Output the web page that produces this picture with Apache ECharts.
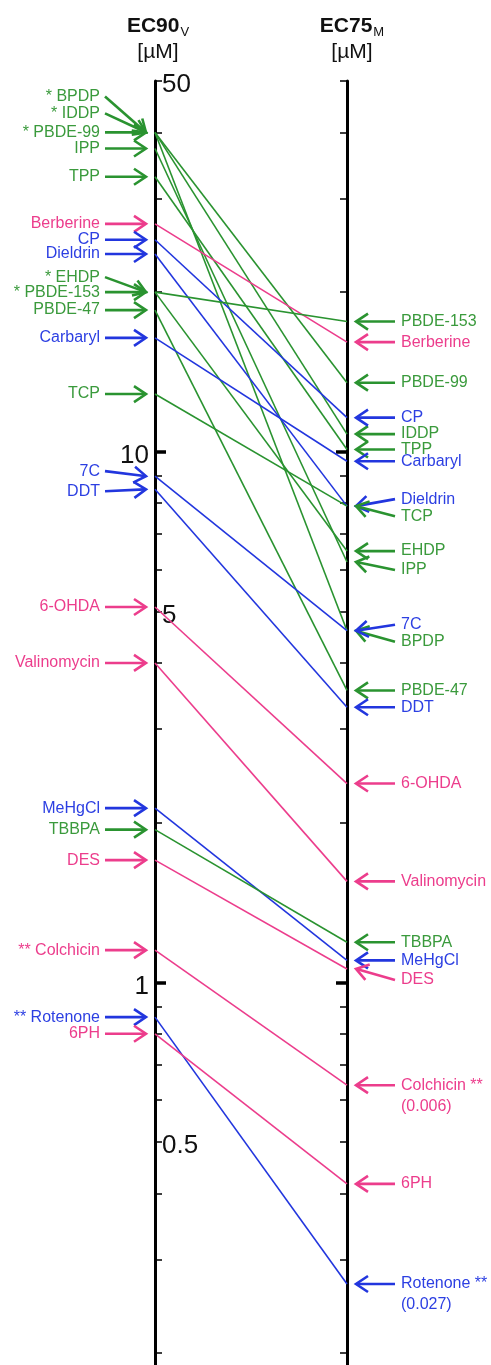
<!DOCTYPE html>
<html>
<head>
<meta charset="utf-8">
<script src="https://cdn.jsdelivr.net/npm/echarts@6/dist/echarts.min.js"></script>
<style>
  html, body { margin: 0; padding: 0; background: #fff; }
  #chart { width: 491px; height: 1365px; }
</style>
</head>
<body>
<div id="chart"></div>
<script>
// Compounds and their effective concentrations (µM)
const compounds = ['BPDP', 'IDDP', 'PBDE-99', 'IPP', 'TPP', 'Berberine', 'CP', 'Dieldrin', 'EHDP', 'PBDE-153',
  'PBDE-47', 'Carbaryl', 'TCP', '7C', 'DDT', '6-OHDA', 'Valinomycin', 'MeHgCl', 'TBBPA', 'DES',
  'Colchicin', 'Rotenone', '6PH'];
// colour group of each compound: g = green, b = blue, p = pink
const groups = ['g', 'g', 'g', 'g', 'g', 'p', 'b', 'b', 'g', 'g',
  'g', 'b', 'g', 'b', 'b', 'p', 'p', 'b', 'g', 'p',
  'p', 'b', 'p'];
const ec90V = [40, 40, 40, 37.3, 33, 26.9, 25.1, 23.6, 20, 20,
  18.5, 16.4, 12.85, 9.0, 8.5, 5.1, 4.0, 2.13, 1.94, 1.70,
  1.15, 0.86, 0.80];
const ec75M = [4.6, 10.8, 13.5, 6.2, 10.1, 16.1, 11.6, 7.9, 6.5, 17.6,
  3.55, 9.6, 7.9, 4.6, 3.3, 2.37, 1.55, 1.10, 1.19, 1.06,
  0.006, 0.027, 0.417];
// markers next to the names
const leftMarks = ['* ', '* ', '* ', '', '', '', '', '', '* ', '* ',
  '', '', '', '', '', '', '', '', '', '',
  '** ', '** ', ''];
const rightMarks = ['', '', '', '', '', '', '', '', '', '',
  '', '', '', '', '', '', '', '', '', '',
  ' **', ' **', ''];
// values below the axis range are placed at these axis positions
const offScalePlace = { 'Colchicin': 0.64, 'Rotenone': 0.27 };

// axis ticks and labels
const minorTicks = [0.2, 0.3, 0.4, 0.5, 0.6, 0.7, 0.8, 0.9, 2, 3, 4, 5, 6, 7, 8, 9, 20, 30, 40, 50];
const majorTicks = [1, 10];
const innerTickLabels = [50, 5, 0.5];
const outerTickLabels = [10, 1];
const axisMin = 0.19, axisMax = 50;

// label nudges (px) where names would collide
const shiftLeft = { 'BPDP': -36, 'IDDP': -19, 'EHDP': -15, '7C': -5, 'DDT': 2 };
const shiftRight = { 'Dieldrin': -7, 'TCP': 10, 'IPP': 8, '7C': -6, 'BPDP': 11, 'DES': 11 };

const palette = {
  g: { text: '#3a9a3c', line: '#2a9330', arrow: '#2a9330' },
  b: { text: '#2c3fe2', line: '#2236de', arrow: '#2236de' },
  p: { text: '#ec3d8c', line: '#ec3d8c', arrow: '#ec3d8c' }
};
const FONT = '"Liberation Sans", Arial, Helvetica, sans-serif';

function plottedRight(i) {
  const v = ec75M[i];
  return v < axisMin ? offScalePlace[compounds[i]] : v;
}

function chevron(tail, tip, color) {
  const dx = tip[0] - tail[0], dy = tip[1] - tail[1];
  const len = Math.hypot(dx, dy);
  const ux = dx / len, uy = dy / len;
  const nx = -uy, ny = ux;
  const back = 12, half = 8;
  return [
    { type: 'line', shape: { x1: tail[0], y1: tail[1], x2: tip[0] - ux * 1.5, y2: tip[1] - uy * 1.5 },
      style: { stroke: color, lineWidth: 2.6 } },
    { type: 'polyline', shape: { points: [
        [tip[0] - ux * back + nx * half, tip[1] - uy * back + ny * half],
        [tip[0], tip[1]],
        [tip[0] - ux * back - nx * half, tip[1] - uy * back - ny * half]] },
      style: { stroke: color, lineWidth: 2.6, fill: null, lineJoin: 'miter' } }
  ];
}

function renderCompound(params, api) {
  const i = params.dataIndex;
  const name = compounds[i];
  const col = palette[groups[i]];
  const p0 = api.coord([0, ec90V[i]]);
  const p1 = api.coord([1, plottedRight(i)]);
  const children = [];
  children.push({ type: 'line', z2: 1,
    shape: { x1: p0[0], y1: p0[1], x2: p1[0], y2: p1[1] },
    style: { stroke: col.line, lineWidth: 1.6 } });

  // left side: name and arrow into the EC90 axis
  const ly = p0[1] + (shiftLeft[name] || 0);
  children.push(...chevron([p0[0] - 50, ly], [p0[0] - 9, p0[1]], col.arrow));
  children.push({ type: 'text', style: {
    text: leftMarks[i] + name, x: p0[0] - 55, y: ly, align: 'right', verticalAlign: 'middle',
    fill: col.text, font: '16px ' + FONT } });

  // right side: arrow into the EC75 axis and name
  const ry = p1[1] + (shiftRight[name] || 0);
  children.push(...chevron([p1[0] + 48, ry], [p1[0] + 9, p1[1]], col.arrow));
  let txt = name + rightMarks[i];
  if (ec75M[i] < axisMin) txt += '\n(' + ec75M[i] + ')';
  children.push({ type: 'text', style: {
    text: txt, x: p1[0] + 54, y: ry - 10.5, align: 'left', verticalAlign: 'top', lineHeight: 21,
    fill: col.text, font: '16px ' + FONT } });
  return { type: 'group', children };
}

function logAxis(position, opts) {
  return Object.assign({
    type: 'log', logBase: 10, min: axisMin, max: axisMax, position: position,
    axisLine: { show: false },
    axisTick: { show: false },
    axisLabel: { show: false },
    splitLine: { show: false },
    minorTick: { show: false },
    minorSplitLine: { show: false }
  }, opts);
}

// tick numbers sit slightly below their tick
const tickLabelStyle = {
  fontFamily: FONT, fontSize: 26, color: '#111', verticalAlign: 'top', lineHeight: 8,
  formatter: v => String(v)
};

function titleRich() {
  return {
    b: { fontFamily: FONT, fontSize: 21, fontWeight: 'bold', color: '#111', lineHeight: 26 },
    s: { fontFamily: FONT, fontSize: 13, fontWeight: 'normal', color: '#111', lineHeight: 26, verticalAlign: 'bottom', padding: [0, 0, 0, 1] },
    u: { fontFamily: FONT, fontSize: 21, fontWeight: 'normal', color: '#111', lineHeight: 26, align: 'center' }
  };
}

const chart = echarts.init(document.getElementById('chart'), null, { renderer: 'canvas' });
chart.setOption({
  backgroundColor: '#fff',
  animation: false,
  title: [
    { text: '{b|EC90}{s|V}\n{u|[µM]}', left: 153, top: 8, textAlign: 'center',
      textStyle: { fontWeight: 'normal', rich: titleRich() } },
    { text: '{b|EC75}{s|M}\n{u|[µM]}', left: 347, top: 8, textAlign: 'center',
      textStyle: { fontWeight: 'normal', rich: titleRich() } }
  ],
  grid: { left: 155, right: 144, top: 81, height: 1288, containLabel: false },
  xAxis: { type: 'value', min: 0, max: 1, show: false },
  yAxis: [
    // EC90 axis: line, minor ticks, labels inside
    logAxis('left', {
      axisLine: { show: true, onZero: false, lineStyle: { color: '#000', width: 3 } },
      axisTick: { show: true, inside: true, length: 7, customValues: minorTicks, lineStyle: { color: '#000', width: 1.5 } },
      axisLabel: Object.assign({ show: true, inside: true, margin: 7, customValues: innerTickLabels }, tickLabelStyle)
    }),
    // EC90 axis: major ticks, labels outside
    logAxis('left', {
      axisTick: { show: true, inside: true, length: 11, customValues: majorTicks, lineStyle: { color: '#000', width: 3.5 } },
      axisLabel: Object.assign({ show: true, inside: false, margin: 6, customValues: outerTickLabels }, tickLabelStyle)
    }),
    // EC75 axis
    logAxis('right', {
      axisLine: { show: true, onZero: false, lineStyle: { color: '#000', width: 3 } },
      axisTick: { show: true, inside: true, length: 7, customValues: minorTicks, lineStyle: { color: '#000', width: 1.5 } }
    }),
    logAxis('right', {
      axisTick: { show: true, inside: true, length: 11, customValues: majorTicks, lineStyle: { color: '#000', width: 3.5 } }
    })
  ],
  series: [{
    type: 'custom',
    yAxisIndex: 0,
    clip: false,
    silent: true,
    encode: { x: [0, 2], y: [1, 3] },
    data: compounds.map((n, i) => [0, ec90V[i], 1, plottedRight(i)]),
    renderItem: renderCompound
  }]
});
</script>
</body>
</html>
